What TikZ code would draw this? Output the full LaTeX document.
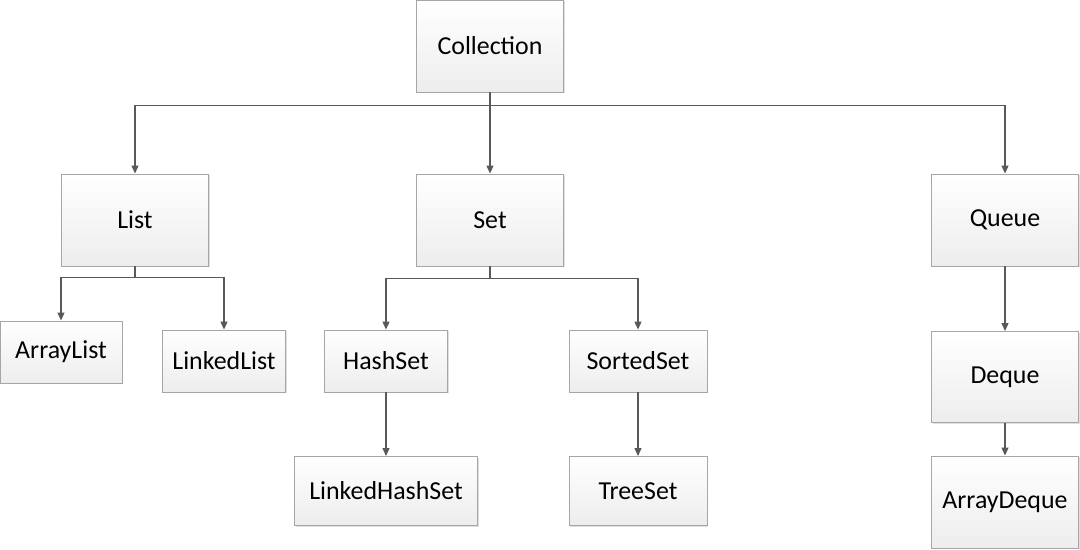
\documentclass[tikz,border=0pt]{standalone}
\usepackage{fontspec}
\setmainfont{Carlito}
\usepackage{xcolor}
\usetikzlibrary{arrows.meta, shadows}

\definecolor{boxline}{HTML}{A6A6A6}
\definecolor{boxbot}{HTML}{EDEDED}
\definecolor{linkgray}{HTML}{595959}

\tikzset{
  cls/.style={draw=boxline, line width=0.9bp, top color=white, bottom color=boxbot,
    font=\fontsize{26}{30}\selectfont, inner sep=0pt,
    drop shadow={shadow xshift=1.2bp, shadow yshift=-1.2bp, opacity=0.25}},
  big/.style={cls, minimum width=147bp, minimum height=92bp},
  small/.style={cls, minimum height=62bp},
  link/.style={draw=linkgray, line width=1.1bp, -{Triangle[length=8bp, width=7bp]}},
}

\begin{document}
\begin{tikzpicture}[x=1bp, y=-1bp]
\useasboundingbox (0,0) rectangle (1080,550);
% Top level
\node[big] (coll) at (490,46) {Collection};
% Second level
\node[big] (list) at (135,220) {List};
\node[big] (set) at (490,220) {Set};
\node[big] (queue) at (1005,220) {Queue};
% List branch
\node[small, minimum width=122bp] (alist) at (61,352) {ArrayList};
\node[small, minimum width=123bp] (llist) at (224,361) {LinkedList};
% Set branch
\node[small, minimum width=123bp] (hset) at (386,361) {HashSet};
\node[small, minimum width=138bp] (sset) at (638,361) {SortedSet};
\node[cls, minimum width=183bp, minimum height=69bp] (lhset) at (386,491) {LinkedHashSet};
\node[cls, minimum width=138bp, minimum height=69bp] (tset) at (638,491) {TreeSet};
% Queue branch
\node[big, minimum height=91bp] (deque) at (1005,377) {Deque};
\node[big] (adeque) at (1005,502) {ArrayDeque};
% Links
\draw[link] (coll.south) -- ++(0,13) -| (list.north);
\draw[link] (coll.south) -- (set.north);
\draw[link] (coll.south) -- ++(0,13) -| (queue.north);
\draw[link] (list.south) -- ++(0,11) -| (alist.north);
\draw[link] (list.south) -- ++(0,11) -| (llist.north);
\draw[link] (set.south) -- ++(0,12) -| (hset.north);
\draw[link] (set.south) -- ++(0,12) -| (sset.north);
\draw[link] (hset) -- (lhset);
\draw[link] (sset) -- (tset);
\draw[link] (queue) -- (deque);
\draw[link] (deque) -- (adeque);
\end{tikzpicture}
\end{document}
